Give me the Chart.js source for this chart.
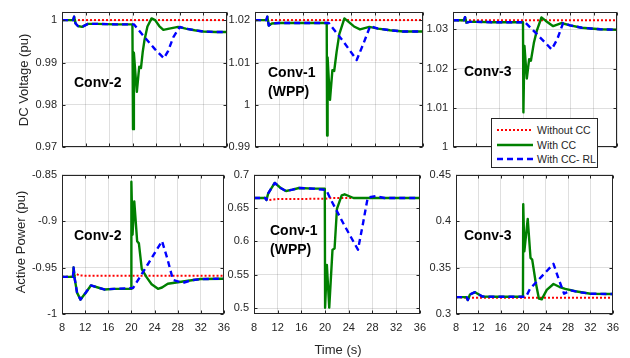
<!DOCTYPE html>
<html>
<head>
<meta charset="utf-8">
<script src="https://cdn.jsdelivr.net/npm/chart.js@4.4.1/dist/chart.umd.min.js"></script>
<style>
    html, body { margin: 0; padding: 0; background: #fff; }
    #fig { position: relative; width: 630px; height: 358px; overflow: hidden;
           font-family: "Liberation Sans", Arial, sans-serif; color: #262626; }
    #fig canvas { position: absolute; }
    .ylabel { position: absolute; white-space: nowrap; font-size: 13px;
              transform: translate(-50%, -50%) rotate(-90deg); }
    .xlabel { position: absolute; white-space: nowrap; font-size: 13px; transform: translate(-50%, -50%); }
    .tag { position: absolute; font-weight: bold; font-size: 14px; line-height: 19px; color: #000; white-space: nowrap; }
    .legend { position: absolute; left: 491px; top: 118px; width: 105px; height: 48px;
              border: 1px solid #262626; background: #fff; font-size: 10.5px; }
    .legend .row { position: absolute; left: 5px; height: 14px; display: flex; align-items: center; }
    .legend svg { margin-right: 4px; }
</style>
</head>
<body>
<div id="fig"></div>
<script>
// tick labels
const timeTicks = [8, 12, 16, 20, 24, 28, 32, 36];
const dc2Ticks = [0.97, 0.98, 0.99, 1];
const dc1Ticks = [0.99, 1, 1.01, 1.02];
const dc3Ticks = [1, 1.01, 1.02, 1.03];
const p2Ticks = [-1, -0.95, -0.9, -0.85];
const p1Ticks = [0.5, 0.55, 0.6, 0.65, 0.7];
const p3Ticks = [0.3, 0.35, 0.4, 0.45];

const seriesNames = ['Without CC', 'With CC', 'With CC- RL'];

// DC voltage, Conv-2
const dc2NoCcT = [8, 36];
const dc2NoCc = [1.0, 1.0];
const dc2CcT = [8, 9.9, 10.05, 10.3, 10.7, 11.4, 12.4, 14, 17, 19.95, 20.05, 20.2, 20.45, 20.7, 21.1, 21.4, 21.7, 22.0, 22.5, 23.2, 23.8, 24.5, 25.2, 26.2, 27.7, 29, 30.5, 32, 34, 36];
const dc2Cc = [1.0, 1.0, 1.0008, 0.9992, 0.9986, 0.9984, 0.9991, 0.9991, 0.999, 0.999, 0.9743, 0.9923, 0.9875, 0.9831, 0.989, 0.9887, 0.9925, 0.9953, 0.9985, 1.0004, 1.0, 0.9986, 0.9977, 0.998, 0.9984, 0.998, 0.9976, 0.9973, 0.9972, 0.9972];
const dc2RlT = [8, 9.9, 10.05, 10.3, 10.7, 11.4, 12.4, 14, 17, 20.2, 21.75, 23.8, 25.3, 26, 26.9, 28, 29, 30.5, 32, 34, 36];
const dc2Rl = [1.0, 1.0, 1.0008, 0.9992, 0.9986, 0.9984, 0.9991, 0.9991, 0.999, 0.999, 0.9964, 0.9931, 0.991, 0.9927, 0.996, 0.9984, 0.998, 0.9976, 0.9973, 0.9972, 0.9972];

// DC voltage, Conv-1 (WPP)
const dc1NoCcT = [8, 36];
const dc1NoCc = [1.02, 1.02];
const dc1CcT = [8, 9.9, 10.05, 10.3, 10.8, 12, 15, 19.95, 20.02, 20.1, 20.3, 20.5, 20.9, 21.2, 21.6, 22.05, 22.9, 23.5, 24.5, 25.5, 27.05, 28.5, 30.5, 32.7, 36];
const dc1Cc = [1.02, 1.02, 1.0208, 1.0187, 1.0192, 1.0193, 1.0193, 1.0193, 0.9928, 1.0112, 1.006, 1.0012, 1.0082, 1.008, 1.0125, 1.0167, 1.0204, 1.0197, 1.0185, 1.0178, 1.0184, 1.018, 1.0176, 1.0173, 1.0173];
const dc1RlT = [8, 9.9, 10.05, 10.3, 10.8, 12, 15, 20.3, 22.7, 24.95, 26, 27.2, 28.5, 30.5, 32.7, 36];
const dc1Rl = [1.02, 1.02, 1.0208, 1.0187, 1.0192, 1.0193, 1.0193, 1.0193, 1.015, 1.0106, 1.0142, 1.0186, 1.018, 1.0176, 1.0173, 1.0173];

// DC voltage, Conv-3
const dc3NoCcT = [8, 36];
const dc3NoCc = [1.0323, 1.0323];
const dc3CcT = [8, 9.9, 10.05, 10.3, 10.8, 12, 15, 19.95, 20.02, 20.2, 20.6, 21.0, 21.3, 21.8, 22.3, 23.1, 23.8, 25.1, 26.5, 28, 30, 33.1, 36];
const dc3Cc = [1.0323, 1.0323, 1.0331, 1.0317, 1.0319, 1.0319, 1.0318, 1.0318, 1.0089, 1.0258, 1.0175, 1.0224, 1.022, 1.0265, 1.0296, 1.033, 1.0322, 1.0308, 1.0316, 1.031, 1.0304, 1.03, 1.0299];
const dc3RlT = [8, 9.9, 10.05, 10.3, 10.8, 12, 15, 20.3, 22.5, 24.85, 25.8, 26.8, 28, 30, 33.1, 36];
const dc3Rl = [1.0323, 1.0323, 1.0331, 1.0317, 1.0319, 1.0319, 1.0318, 1.0318, 1.0285, 1.0249, 1.0275, 1.0316, 1.031, 1.0304, 1.03, 1.0299];

// Active power, Conv-2
const p2NoCcT = [8, 10, 10.5, 11, 12, 36];
const p2NoCc = [-0.96, -0.96, -0.957, -0.9585, -0.9588, -0.9588];
const p2CcT = [8, 9.9, 10.0, 10.2, 10.6, 11.2, 12.0, 13.0, 14.2, 15.3, 17, 19.95, 20.0, 20.2, 20.5, 21.0, 21.3, 21.8, 22.65, 23.5, 24.6, 25.3, 26.3, 29.2, 32, 36];
const p2Cc = [-0.96, -0.96, -0.95, -0.962, -0.977, -0.9845, -0.978, -0.9693, -0.9715, -0.9736, -0.973, -0.973, -0.8576, -0.9147, -0.8788, -0.9218, -0.924, -0.9517, -0.9606, -0.968, -0.9729, -0.9715, -0.9675, -0.9648, -0.9623, -0.962];
const p2RlT = [8, 9.9, 10.0, 10.2, 10.6, 11.2, 12.0, 13.0, 14.2, 15.3, 17, 20.3, 22.8, 25.3, 26.2, 27.2, 28.9, 30.5, 32, 36];
const p2Rl = [-0.96, -0.96, -0.95, -0.962, -0.977, -0.9845, -0.978, -0.9693, -0.9715, -0.9736, -0.973, -0.972, -0.947, -0.9215, -0.94, -0.9633, -0.9665, -0.9635, -0.9625, -0.962];

// Active power, Conv-1 (WPP)
const p1NoCcT = [8, 10, 10.5, 12, 20, 21, 36];
const p1NoCc = [0.665, 0.665, 0.662, 0.6635, 0.6638, 0.665, 0.665];
const p1CcT = [8, 9.9, 10.1, 10.4, 11.5, 12.5, 13.4, 14.5, 15.6, 18, 19.95, 20.0, 20.3, 20.7, 21.25, 21.6, 22.0, 22.8, 23.3, 24.0, 24.8, 36];
const p1Cc = [0.665, 0.665, 0.662, 0.672, 0.6876, 0.68, 0.6754, 0.6775, 0.68, 0.679, 0.679, 0.5009, 0.565, 0.501, 0.5877, 0.5895, 0.6486, 0.669, 0.6705, 0.668, 0.665, 0.665];
const p1RlT = [8, 9.9, 10.1, 10.4, 11.5, 12.5, 13.4, 14.5, 15.6, 18, 20.2, 21.0, 23.2, 25.55, 26.4, 27.2, 28.6, 30, 36];
const p1Rl = [0.665, 0.665, 0.662, 0.672, 0.6876, 0.68, 0.6754, 0.6775, 0.68, 0.679, 0.677, 0.662, 0.625, 0.5877, 0.627, 0.6657, 0.668, 0.665, 0.665];

// Active power, Conv-3
const p3NoCcT = [8, 10, 36];
const p3NoCc = [0.3182, 0.3175, 0.3175];
const p3CcT = [8, 9.9, 10.1, 10.5, 11.4, 12.7, 15, 19.95, 20.0, 20.2, 20.8, 21.3, 21.6, 22.2, 22.8, 23.3, 24.2, 25.4, 26.5, 27.5, 29.3, 32, 36];
const p3Cc = [0.3182, 0.3182, 0.315, 0.321, 0.3235, 0.3188, 0.3185, 0.3185, 0.4182, 0.3674, 0.4024, 0.3603, 0.3585, 0.335, 0.3165, 0.3158, 0.326, 0.3323, 0.329, 0.327, 0.3245, 0.3218, 0.3215];
const p3RlT = [8, 9.9, 10.1, 10.5, 11.4, 12.7, 15, 20.5, 21.2, 23.3, 25.4, 26.3, 27.3, 28.5, 30, 32, 36];
const p3Rl = [0.3182, 0.3182, 0.315, 0.321, 0.3235, 0.3188, 0.3185, 0.3185, 0.327, 0.3405, 0.354, 0.338, 0.3218, 0.3255, 0.3235, 0.3218, 0.3215];

const AXIS_COLOR = '#262626';
const GRID_COLOR = 'rgba(38, 38, 38, 0.15)';
const AXIS_W = 45, PAD_TOP = 8, PAD_RIGHT = 10, PAD_BOTTOM = 8, XAXIS_H = 22;

const panels = [
    { area: [62, 8, 227, 151], yMin: 0.97, yMax: 1.002, yTicks: dc2Ticks, showX: false,
      data: [[dc2NoCcT, dc2NoCc], [dc2CcT, dc2Cc], [dc2RlT, dc2Rl]] },
    { area: [255, 8, 423, 151], yMin: 0.99, yMax: 1.022, yTicks: dc1Ticks, showX: false,
      data: [[dc1NoCcT, dc1NoCc], [dc1CcT, dc1Cc], [dc1RlT, dc1Rl]] },
    { area: [453, 8, 617, 151], yMin: 1.0, yMax: 1.0345, yTicks: dc3Ticks, showX: false,
      data: [[dc3NoCcT, dc3NoCc], [dc3CcT, dc3Cc], [dc3RlT, dc3Rl]] },
    { area: [62, 171, 227, 314], yMin: -1, yMax: -0.85, yTicks: p2Ticks, showX: true,
      data: [[p2NoCcT, p2NoCc], [p2CcT, p2Cc], [p2RlT, p2Rl]] },
    { area: [254, 171, 423, 314], yMin: 0.4915, yMax: 0.7, yTicks: p1Ticks, showX: true,
      data: [[p1NoCcT, p1NoCc], [p1CcT, p1Cc], [p1RlT, p1Rl]] },
    { area: [456, 171, 616, 314], yMin: 0.3, yMax: 0.45, yTicks: p3Ticks, showX: true,
      data: [[p3NoCcT, p3NoCc], [p3CcT, p3Cc], [p3RlT, p3Rl]] }
];

const lineStyles = [
    { borderColor: '#ff0000', borderWidth: 2, borderDash: [2, 2], order: 2 },
    { borderColor: '#008000', borderWidth: 2.4, borderDash: [], order: 1 },
    { borderColor: '#0000ff', borderWidth: 2.4, borderDash: [6, 4], order: 0 }
];

// box round the plot with inward tick marks, MATLAB style
const marcoPlugin = {
    id: 'marco',
    afterDraw(chart) {
        const { ctx, chartArea: a, scales } = chart;
        const L = Math.round(a.left) + 0.5, R = Math.round(a.right) - 0.5;
        const T = Math.round(a.top) + 0.5, B = Math.round(a.bottom) - 0.5;
        ctx.save();
        ctx.strokeStyle = AXIS_COLOR;
        ctx.lineWidth = 1;
        ctx.setLineDash([]);
        ctx.strokeRect(L, T, R - L, B - T);
        ctx.beginPath();
        scales.x.ticks.forEach(t => {
            const x = Math.round(scales.x.getPixelForValue(t.value)) + 0.5;
            ctx.moveTo(x, B); ctx.lineTo(x, B - 3);
            ctx.moveTo(x, T); ctx.lineTo(x, T + 3);
        });
        scales.y.ticks.forEach(t => {
            const y = Math.round(scales.y.getPixelForValue(t.value)) + 0.5;
            ctx.moveTo(L, y); ctx.lineTo(L + 3, y);
            ctx.moveTo(R, y); ctx.lineTo(R - 3, y);
        });
        ctx.stroke();
        ctx.restore();
    }
};

function formatTick(v) {
    return String(Math.round(v * 10000) / 10000);
}

function crearPanel(p) {
    const fig = document.getElementById('fig');
    const canvas = document.createElement('canvas');
    const bottomExtra = p.showX ? XAXIS_H : PAD_BOTTOM;
    const w = p.area[2] - p.area[0] + AXIS_W + PAD_RIGHT;
    const h = p.area[3] - p.area[1] + PAD_TOP + bottomExtra;
    canvas.width = w;
    canvas.height = h;
    canvas.style.left = (p.area[0] - AXIS_W) + 'px';
    canvas.style.top = (p.area[1] - PAD_TOP) + 'px';
    fig.appendChild(canvas);

    const tickFont = { family: '"Liberation Sans", Arial, sans-serif', size: 11 };

    new Chart(canvas.getContext('2d'), {
        type: 'line',
        data: {
            datasets: p.data.map(([t, v], i) => ({
                label: seriesNames[i],
                data: t.map((x, k) => ({ x, y: v[k] })),
                ...lineStyles[i],
                borderJoinStyle: 'round',
                pointRadius: 0,
                tension: 0,
                fill: false
            }))
        },
        options: {
            responsive: false,
            animation: false,
            events: [],
            layout: { padding: { top: PAD_TOP, right: PAD_RIGHT, bottom: p.showX ? 0 : PAD_BOTTOM, left: 0 } },
            plugins: { legend: { display: false }, tooltip: { enabled: false } },
            scales: {
                x: {
                    type: 'linear', min: 8, max: 36,
                    afterBuildTicks: s => { s.ticks = timeTicks.map(v => ({ value: v })); },
                    afterFit: s => { s.height = p.showX ? XAXIS_H : 0; },
                    ticks: { display: p.showX, padding: 7, color: AXIS_COLOR, font: tickFont, maxRotation: 0 },
                    grid: { color: GRID_COLOR, drawTicks: false },
                    border: { display: false }
                },
                y: {
                    type: 'linear', min: p.yMin, max: p.yMax,
                    afterBuildTicks: s => { s.ticks = p.yTicks.map(v => ({ value: v })); },
                    afterFit: s => { s.width = AXIS_W; },
                    ticks: { padding: 5, color: AXIS_COLOR, font: tickFont, callback: formatTick },
                    grid: { color: GRID_COLOR, drawTicks: false },
                    border: { display: false }
                }
            }
        },
        plugins: [marcoPlugin]
    });
}

panels.forEach(crearPanel);

// labels, panel tags and legend as html text
const fig = document.getElementById('fig');
fig.insertAdjacentHTML('beforeend', `
    <div class="ylabel" style="left:23px; top:80px;">DC Voltage (pu)</div>
    <div class="ylabel" style="left:20px; top:242px;">Active Power (pu)</div>
    <div class="xlabel" style="left:338px; top:349px;">Time (s)</div>

    <div class="tag" style="left:74px; top:73px;">Conv-2</div>
    <div class="tag" style="left:268px; top:63px;">Conv-1<br>(WPP)</div>
    <div class="tag" style="left:464px; top:62px;">Conv-3</div>
    <div class="tag" style="left:74px; top:226px;">Conv-2</div>
    <div class="tag" style="left:270px; top:221px;">Conv-1<br>(WPP)</div>
    <div class="tag" style="left:464px; top:226px;">Conv-3</div>

    <div class="legend">
        ${lineStyles.map((s, i) => `
        <div class="row" style="top:${4 + i * 14.5}px;">
            <svg width="36" height="6"><line x1="0" y1="3" x2="36" y2="3" stroke="${s.borderColor}"
                 stroke-width="${s.borderWidth}" stroke-dasharray="${s.borderDash.join(' ') || 'none'}"/></svg>
            <span>${seriesNames[i]}</span>
        </div>`).join('')}
    </div>
`);
</script>
</body>
</html>
